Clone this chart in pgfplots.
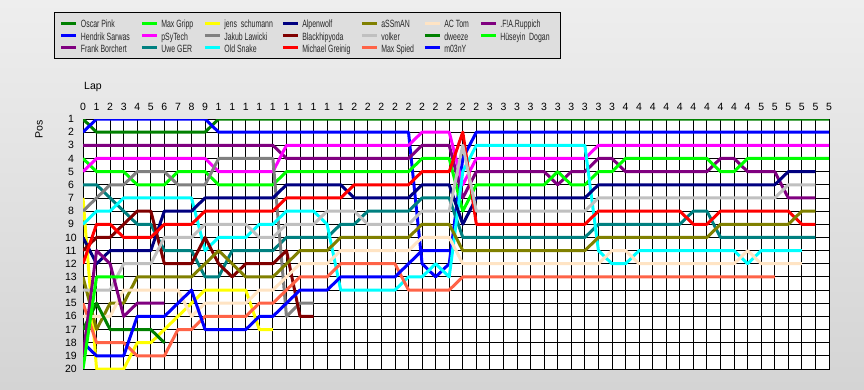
\documentclass[border=0pt]{standalone}
\usepackage{pgfplots}
\pgfplotsset{compat=1.18}
\usepackage{graphicx}
\usepackage{fontspec}
\setmainfont{Liberation Sans}
\definecolor{bgtop}{RGB}{238,238,238}
\definecolor{bgbot}{RGB}{212,212,212}
\definecolor{lgfill}{RGB}{222,222,222}
\definecolor{cOscar}{RGB}{0,128,0}
\definecolor{cHendrik}{RGB}{0,0,255}
\definecolor{cFrank}{RGB}{128,0,128}
\definecolor{cGripp}{RGB}{0,255,0}
\definecolor{cPsy}{RGB}{255,0,255}
\definecolor{cUwe}{RGB}{0,128,128}
\definecolor{cJens}{RGB}{255,255,0}
\definecolor{cJakub}{RGB}{128,128,128}
\definecolor{cSnake}{RGB}{0,255,255}
\definecolor{cAlpen}{RGB}{0,0,128}
\definecolor{cBlack}{RGB}{128,0,0}
\definecolor{cMichael}{RGB}{255,0,0}
\definecolor{cAss}{RGB}{128,128,0}
\definecolor{cVolker}{RGB}{192,192,192}
\definecolor{cSpied}{RGB}{255,99,71}
\definecolor{cTom}{RGB}{255,228,196}
\definecolor{cDweeze}{RGB}{0,128,0}
\definecolor{cMo}{RGB}{0,0,255}
\definecolor{cRupp}{RGB}{128,0,128}
\definecolor{cHues}{RGB}{0,255,0}
\newcommand{\lgd}[2]{\makebox[#1][l]{\rule[-3.7pt]{0pt}{14.5pt}\hspace*{3pt}\scalebox{0.66}[1]{#2}}}
\begin{document}
\begin{tikzpicture}
\useasboundingbox (0,0) rectangle (864pt,389pt);
\shade[top color=bgtop, bottom color=bgbot] (0,0) rectangle (864pt,389pt);
\begin{axis}[
  at={(83pt,20pt)}, anchor=south west,
  scale only axis, width=746pt, height=250pt,
  xmin=0, xmax=55, ymin=1, ymax=20, y dir=reverse,
  axis background/.style={fill=white},
  xtick={0,...,55},
  xticklabels={0,1,2,3,4,5,6,7,8,9,1,1,1,1,1,1,1,1,1,1,2,2,2,2,2,2,2,2,2,2,3,3,3,3,3,3,3,3,3,3,4,4,4,4,4,4,4,4,4,4,5,5,5,5,5,5},
  ytick={1,...,20},
  yticklabels={1,2,3,4,5,6,7,8,9,10,11,12,13,14,15,16,17,18,19,20},
  xticklabel pos=right,
  xticklabel style={anchor=center, yshift=12pt},
  yticklabel style={anchor=center, xshift=-12pt},
  tick label style={font=\fontsize{10.5}{12}\selectfont, text=black},
  major tick length=0pt,
  grid=major,
  major grid style={black, line width=0.9pt},
  axis line style={black, line width=0.9pt},
  xlabel={Lap},
  xlabel style={at={(axis description cs:0,1.128)}, anchor=west, inner sep=0pt, xshift=1pt, font=\fontsize{10.5}{12}\selectfont},
  ylabel={Pos},
  ylabel style={at={(axis description cs:-0.059,0.96)}, anchor=center, font=\fontsize{10.5}{12}\selectfont},
  every axis plot/.append style={line width=3pt, line join=round},
  legend columns=7,
  legend cell align=left,
  legend style={at={(axis description cs:-0.0395,1.428)}, anchor=north west,
    draw=black, line width=0.8pt, fill=lgfill,
    inner xsep=6pt, inner ysep=4.75pt,
    column sep=0pt, row sep=0pt,
    nodes={inner sep=0pt, text=black!85, font=\fontsize{10.5}{12}\selectfont}},
  legend image code/.code={\draw[#1, line width=3pt, line cap=butt] (0pt,0pt) -- (15pt,0pt);},
]
% 1 Oscar Pink
\addplot[cOscar, forget plot] coordinates {(0,1)(1,2)(9,2)(10,1)(55,1)};
% 2 Hendrik Sarwas
\addplot[cHendrik, forget plot] coordinates {(0,2)(1,1)(9,1)(10,2)(24,2)(25,12)(26,13)(27,12)(28,4)(29,2)(55,2)};
% 3 Frank Borchert
\addplot[cFrank, forget plot] coordinates {(0,3)(14,3)(15,4)(24,4)(25,3)(27,3)(28,7)(29,5)(34,5)(35,6)(36,5)(37,5)(38,4)(39,4)(40,5)(46,5)(47,4)(48,4)(49,5)(51,5)(52,7)(54,7)};
% 4 Max Gripp
\addplot[cGripp, forget plot] coordinates {(0,4)(1,5)(3,5)(4,6)(6,6)(7,5)(9,5)(10,6)(14,6)(15,5)(24,5)(25,4)(27,4)(28,8)(29,6)(34,6)(35,5)(36,6)(37,6)(38,5)(39,5)(40,4)(46,4)(47,5)(48,5)(49,4)(55,4)};
% 5 pSyTech
\addplot[cPsy, forget plot] coordinates {(0,5)(1,4)(9,4)(10,5)(14,5)(15,3)(24,3)(25,2)(27,2)(28,6)(29,4)(37,4)(38,3)(55,3)};
% 6 Uwe GER
\addplot[cUwe, forget plot] coordinates {(0,6)(1,6)(4,9)(5,9)(6,11)(8,11)(9,13)(10,13)(11,11)(14,11)(15,10)(18,10)(19,9)(20,9)(21,8)(24,8)(25,7)(27,7)(28,10)(37,10)(38,9)(44,9)(45,8)(46,8)(47,10)(54,10)};
% 7 jens schumann
\addplot[cJens, forget plot] coordinates {(0,7)(1,20)(3,20)(4,18)(5,18)(9,14)(12,14)(13,17)(14,17)};
% 8 Jakub Lawicki
\addplot[cJakub, forget plot] coordinates {(0,8)(2,6)(3,6)(4,5)(6,5)(7,6)(9,6)(10,4)(14,4)(15,16)(16,15)(17,15)};
% 9 Old Snake
\addplot[cSnake, forget plot] coordinates {(0,9)(1,8)(2,8)(3,7)(8,7)(9,11)(10,10)(12,10)(13,9)(14,9)(15,8)(17,8)(18,9)(19,14)(23,14)(24,13)(25,13)(26,12)(27,13)(28,5)(29,3)(37,3)(38,11)(39,12)(40,12)(41,11)(48,11)(49,12)(50,11)(53,11)};
% 10 Alpenwolf
\addplot[cAlpen, forget plot] coordinates {(0,10)(1,12)(2,11)(5,11)(6,8)(8,8)(9,7)(14,7)(15,6)(19,6)(20,7)(24,7)(25,6)(27,6)(28,9)(29,7)(37,7)(38,6)(51,6)(52,5)(54,5)};
% 11 Blackhipyoda
\addplot[cBlack, forget plot] coordinates {(0,11)(1,10)(2,10)(3,9)(4,8)(5,8)(6,12)(8,12)(9,10)(10,12)(11,13)(12,12)(14,12)(15,11)(16,16)(17,16)};
% 12 Michael Greinig
\addplot[cMichael, forget plot] coordinates {(0,12)(1,9)(2,9)(3,10)(5,10)(6,9)(8,9)(9,8)(14,8)(15,7)(19,7)(20,6)(24,6)(25,5)(27,5)(28,2)(29,9)(37,9)(38,8)(44,8)(45,9)(46,9)(47,8)(52,8)(53,9)(54,9)};
% 13 aSSmAN
\addplot[cAss, forget plot] coordinates {(0,13)(1,17)(2,15)(3,15)(4,13)(8,13)(9,12)(10,11)(11,12)(12,13)(14,13)(15,12)(16,11)(18,11)(19,10)(24,10)(25,9)(27,9)(28,11)(37,11)(38,10)(46,10)(47,9)(52,9)(53,8)(54,8)};
% 14 volker
\addplot[cVolker, forget plot] coordinates {(0,14)(2,14)(3,12)(5,12)(6,10)(8,10)(9,9)(12,9)(13,10)(14,10)(15,9)(17,9)(18,8)(20,8)(21,9)(24,9)(25,8)(27,8)(28,3)(29,8)(37,8)(38,7)(51,7)(52,6)(54,6)};
% 15 Max Spied
\addplot[cSpied, forget plot] coordinates {(0,15)(1,18)(3,18)(4,19)(6,19)(7,17)(8,17)(9,16)(12,16)(13,15)(14,15)(15,14)(16,13)(18,13)(19,12)(23,12)(24,14)(27,14)(28,13)(51,13)};
% 16 AC Tom
\addplot[cTom, forget plot] coordinates {(0,16)(2,16)(3,14)(7,14)(8,16)(9,15)(12,15)(13,14)(14,14)(15,13)(16,12)(18,12)(19,11)(24,11)(25,10)(27,10)(28,12)(38,12)(39,11)(40,11)(41,12)(48,12)(49,11)(50,12)(53,12)};
% 17 dweeze
\addplot[cDweeze, forget plot] coordinates {(0,17)(1,15)(2,17)(5,17)(6,18)};
% 18 m03nY
\addplot[cMo, forget plot] coordinates {(0,18)(1,19)(3,19)(4,16)(6,16)(7,15)(8,14)(9,17)(12,17)(13,16)(14,16)(15,15)(16,14)(18,14)(19,13)(23,13)(24,12)(25,11)(27,11)};
% 19 .F!A.Ruppich
\addplot[cRupp, forget plot] coordinates {(0,19)(1,11)(2,12)(3,16)(4,15)(6,15)};
% 20 Hueseyin Dogan
\addplot[cHues, forget plot] coordinates {(0,20)(1,13)(3,13)};
% legend (row-major, as in the reference)
\addlegendimage{cOscar}\addlegendentry{\lgd{62.4pt}{Oscar Pink}}
\addlegendimage{cGripp}\addlegendentry{\lgd{45pt}{Max Gripp}}
\addlegendimage{cJens}\addlegendentry{\lgd{60pt}{jens\ \ schumann}}
\addlegendimage{cAlpen}\addlegendentry{\lgd{61pt}{Alpenwolf}}
\addlegendimage{cAss}\addlegendentry{\lgd{45pt}{aSSmAN}}
\addlegendimage{cTom}\addlegendentry{\lgd{38pt}{AC Tom}}
\addlegendimage{cRupp}\addlegendentry{\lgd{57.3pt}{.F!A.Ruppich}}
\addlegendimage{cHendrik}\addlegendentry{\lgd{62.4pt}{Hendrik Sarwas}}
\addlegendimage{cPsy}\addlegendentry{\lgd{45pt}{pSyTech}}
\addlegendimage{cJakub}\addlegendentry{\lgd{60pt}{Jakub Lawicki}}
\addlegendimage{cBlack}\addlegendentry{\lgd{61pt}{Blackhipyoda}}
\addlegendimage{cVolker}\addlegendentry{\lgd{45pt}{volker}}
\addlegendimage{cDweeze}\addlegendentry{\lgd{38pt}{dweeze}}
\addlegendimage{cHues}\addlegendentry{\lgd{57.3pt}{Hüseyin\ \ Dogan}}
\addlegendimage{cFrank}\addlegendentry{\lgd{62.4pt}{Frank Borchert}}
\addlegendimage{cUwe}\addlegendentry{\lgd{45pt}{Uwe GER}}
\addlegendimage{cSnake}\addlegendentry{\lgd{60pt}{Old Snake}}
\addlegendimage{cMichael}\addlegendentry{\lgd{61pt}{Michael Greinig}}
\addlegendimage{cSpied}\addlegendentry{\lgd{45pt}{Max Spied}}
\addlegendimage{cMo}\addlegendentry{\lgd{38pt}{m03nY}}
\end{axis}
\end{tikzpicture}
\end{document}
